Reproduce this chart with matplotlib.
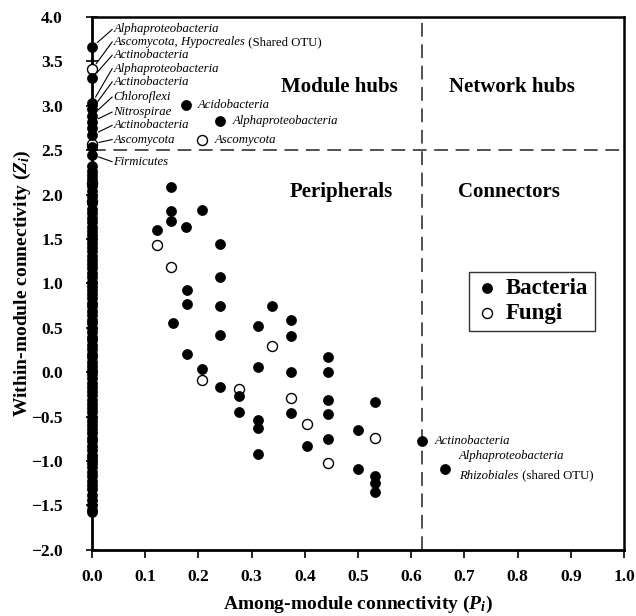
import matplotlib
matplotlib.use("Agg")
import matplotlib.pyplot as plt

plt.rcParams['font.family'] = ['Liberation Serif', 'DejaVu Serif']
plt.rcParams['mathtext.fontset'] = 'custom'
plt.rcParams['mathtext.it'] = 'Liberation Serif:bold:italic'
plt.rcParams['mathtext.rm'] = 'Liberation Serif:bold'

# ---- data ----
# nodes with Pi = 0 (dense column)
col_bact_z = [2.32, 2.27, 2.22, 2.17, 2.10, 2.04, 1.98, 1.90, 1.84, 1.79, 1.74, 1.69,
              1.64, 1.59, 1.55, 1.50, 1.45, 1.41, 1.36, 1.31, 1.26, 1.22, 1.17, 1.12,
              1.07, 1.02, 0.97, 0.93, 0.88, 0.83, 0.78, 0.74, 0.69, 0.64, 0.59, 0.55,
              0.50, 0.45, 0.40, 0.36, 0.31, 0.26, 0.21, 0.17, 0.12, 0.07, 0.02, -0.02,
              -0.07, -0.12, -0.17, -0.21, -0.26, -0.31, -0.36, -0.40, -0.45, -0.50,
              -0.55, -0.59, -0.64, -0.69, -0.74, -0.78, -0.83, -0.88, -0.93, -0.97,
              -1.02, -1.07, -1.12, -1.17, -1.22, -1.27, -1.32, -1.38, -1.44, -1.50,
              -1.55, -1.58,
              3.66, 3.31, 3.03, 2.96, 2.89, 2.82, 2.75, 2.67, 2.54, 2.45]
col_fungi_z = [2.13, 1.93, 3.41, 2.57]

# nodes with Pi > 0
bact_p = [0.122, 0.149, 0.149, 0.149, 0.176, 0.207, 0.241, 0.241, 0.241, 0.241,
          0.178, 0.178, 0.152, 0.178, 0.207, 0.241, 0.276, 0.276, 0.312, 0.338,
          0.312, 0.312, 0.312, 0.312, 0.374, 0.374, 0.374, 0.374, 0.405, 0.444,
          0.444, 0.444, 0.444, 0.444, 0.499, 0.499, 0.531, 0.531, 0.531, 0.531,
          0.620, 0.664, 0.176, 0.241]
bact_z = [1.60, 2.08, 1.82, 1.70, 1.63, 1.83, 1.44, 1.07, 0.74, 0.42,
          0.93, 0.77, 0.55, 0.21, 0.04, -0.17, -0.27, -0.45, 0.52, 0.74,
          0.06, -0.54, -0.63, -0.92, 0.59, 0.41, 0.00, -0.46, -0.83, 0.17,
          0.00, -0.31, -0.47, -0.75, -0.65, -1.09, -0.34, -1.17, -1.25, -1.35,
          -0.78, -1.09, 3.01, 2.83]
fungi_p = [0.122, 0.149, 0.207, 0.276, 0.338, 0.374, 0.405, 0.444, 0.531, 0.207]
fungi_z = [1.43, 1.18, -0.085, -0.19, 0.29, -0.29, -0.58, -1.02, -0.74, 2.62]

# thresholds
zi_threshold = 2.5
pi_threshold = 0.62

# labels of hub column
col_labels = ["Alphaproteobacteria", "Ascomycota, Hypocreales", "Actinobacteria",
              "Alphaproteobacteria", "Actinobacteria", "Chloroflexi", "Nitrospirae",
              "Actinobacteria", "Ascomycota", "Firmicutes"]
col_suffix = ["", " (Shared OTU)", "", "", "", "", "", "", "", ""]
col_targets = [3.66, 3.41, 3.31, 3.03, 2.96, 2.89, 2.82, 2.67, 2.57, 2.45]
col_text_z = [3.86, 3.72, 3.57, 3.42, 3.27, 3.10, 2.93, 2.78, 2.62, 2.37]

# labels of other points
pt_labels = ["Acidobacteria", "Alphaproteobacteria", "Ascomycota", "Actinobacteria"]
pt_label_p = [0.176, 0.241, 0.207, 0.620]
pt_label_z = [3.01, 2.83, 2.62, -0.78]

regions = ["Module hubs", "Network hubs", "Peripherals", "Connectors"]
region_p = [0.465, 0.79, 0.469, 0.783]
region_z = [3.21, 3.21, 2.03, 2.03]

# ---- figure ----
fig = plt.figure(figsize=(6.36, 6.16), dpi=100)
ax = fig.add_axes([0.1447, 0.1075, 0.8365, 0.8649])

ms = 52
ax.scatter([0.0] * len(col_fungi_z), col_fungi_z, s=ms, facecolor='white',
           edgecolor='black', linewidth=1.0, zorder=3, clip_on=False)
ax.scatter(fungi_p, fungi_z, s=ms, facecolor='white', edgecolor='black',
           linewidth=1.0, zorder=3, label='Fungi')
ax.scatter([0.0] * len(col_bact_z), col_bact_z, s=ms, facecolor='black',
           edgecolor='black', linewidth=0.5, zorder=4, clip_on=False)
ax.scatter(bact_p, bact_z, s=ms, facecolor='black', edgecolor='black',
           linewidth=0.5, zorder=4, label='Bacteria')

ax.axhline(zi_threshold, color='#222222', lw=1.1, ls=(0, (9, 5)), zorder=1)
ax.axvline(pi_threshold, color='#222222', lw=1.1, ls=(0, (9, 5)), zorder=1)

ax.set_xlim(0, 1.0)
ax.set_ylim(-2.0, 4.0)
ax.set_xticks([i / 10 for i in range(11)])
ax.set_yticks([-2 + 0.5 * i for i in range(13)])
ax.set_xticklabels([f"{i/10:.1f}" for i in range(11)], fontweight='bold', fontsize=12.5)
ax.set_yticklabels([f"{-2 + 0.5*i:.1f}".replace('-', '\u2212') for i in range(13)],
                   fontweight='bold', fontsize=12.5)
ax.tick_params(axis='x', direction='out', length=6, width=1.2, pad=8)
ax.tick_params(axis='y', direction='inout', length=8, width=1.2, pad=17)
for s in ['left', 'bottom']:
    ax.spines[s].set_linewidth(2.0)
for s in ['top', 'right']:
    ax.spines[s].set_linewidth(1.8)

ax.set_xlabel(r'Among-module connectivity ($P_i$)', fontsize=14, fontweight='bold')
ax.set_ylabel(r'Within-module connectivity ($Z_i$)', fontsize=14, fontweight='bold')
ax.xaxis.set_label_coords(0.5, -0.083)
ax.yaxis.set_label_coords(-0.111, 0.5)

fs_lab = 9.2
fig.canvas.draw()
renderer = fig.canvas.get_renderer()
inv = ax.transData.inverted()

for txt, suf, tz, lz in zip(col_labels, col_suffix, col_targets, col_text_z):
    t = ax.text(0.040, lz, txt, fontsize=fs_lab, style='italic', ha='left',
                va='center', zorder=5)
    ax.annotate('', xy=(0.0, tz), xytext=(0.038, lz),
                arrowprops=dict(arrowstyle='-', lw=0.8, color='black',
                                shrinkA=0, shrinkB=5))
    if suf:
        bb = t.get_window_extent(renderer)
        x1 = inv.transform((bb.x1, bb.y0))[0]
        ax.text(x1, lz, suf, fontsize=fs_lab, ha='left', va='center')

for txt, p, z in zip(pt_labels, pt_label_p, pt_label_z):
    ax.annotate(txt, xy=(p, z), xytext=(9, 0), textcoords='offset points',
                fontsize=fs_lab, style='italic', ha='left', va='center')

ax.annotate("Alphaproteobacteria", xy=(0.664, -1.09), xytext=(10, 7),
            textcoords='offset points', fontsize=fs_lab, style='italic',
            ha='left', va='baseline')
t2 = ax.annotate("Rhizobiales", xy=(0.664, -1.09), xytext=(10, -7),
                 textcoords='offset points', fontsize=fs_lab, style='italic',
                 ha='left', va='baseline')
bb2 = t2.get_window_extent(renderer)
ax.annotate(" (shared OTU)", xy=(0.664, -1.09),
            xytext=(10 + bb2.width * 72 / fig.dpi, -7),
            textcoords='offset points', fontsize=fs_lab, ha='left', va='baseline')

for txt, p, z in zip(regions, region_p, region_z):
    ax.text(p, z, txt, fontsize=15, fontweight='bold', ha='center', va='center')

handles, labels = ax.get_legend_handles_labels()
order = [labels.index('Bacteria'), labels.index('Fungi')]
leg = ax.legend([handles[i] for i in order], [labels[i] for i in order],
                loc='center', bbox_to_anchor=(0.827, 0.80),
                bbox_transform=ax.transData, fancybox=False, framealpha=1,
                edgecolor='#333333', prop={'family': 'Liberation Serif',
                                            'weight': 'bold', 'size': 16.5},
                handletextpad=0.3, borderpad=0.3, labelspacing=0.15,
                handlelength=1.0, scatterpoints=1)
leg.get_frame().set_linewidth(1.0)

fig.savefig("out.png", dpi=100)
